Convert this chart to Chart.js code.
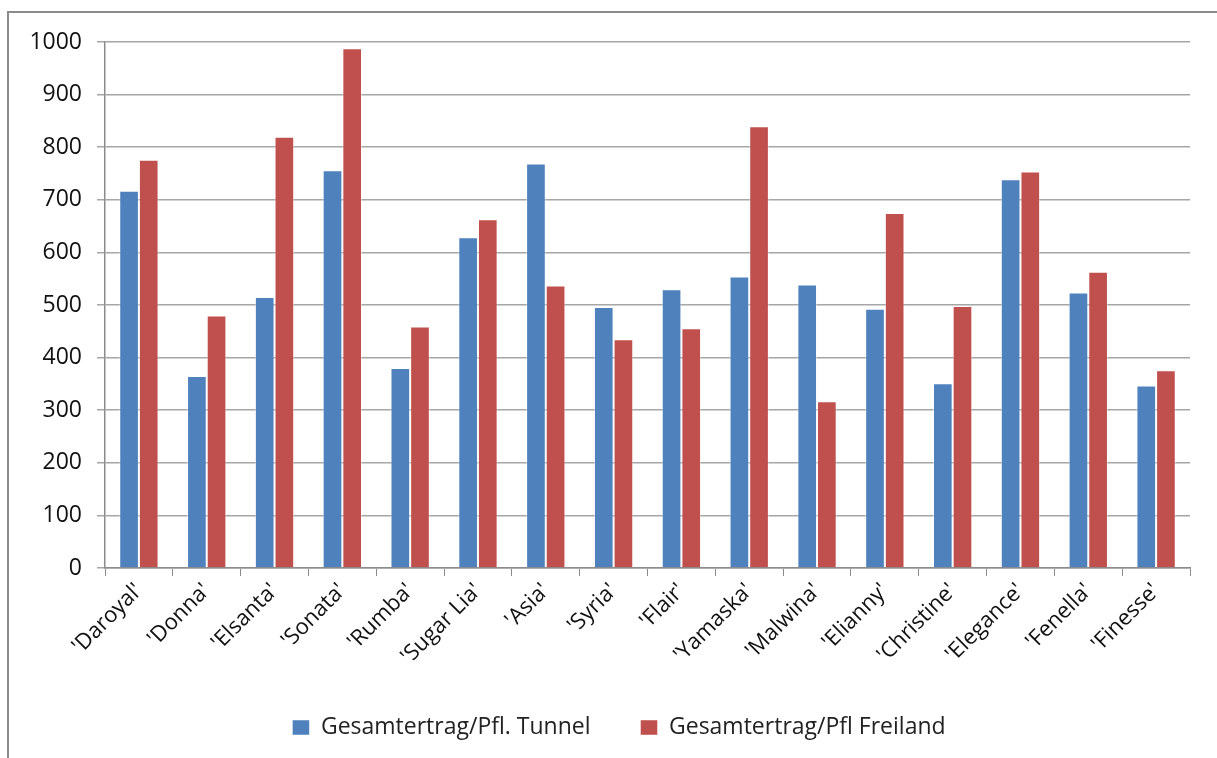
<!DOCTYPE html>
<html>
<head>
<meta charset="utf-8">
<script src="https://cdn.jsdelivr.net/npm/chart.js@4/dist/chart.umd.min.js"></script>
<style>
  html, body { margin: 0; padding: 0; background: #fff; }
  #wrap { width: 1217px; height: 758px; position: relative; }
</style>
</head>
<body>
<div id="wrap"><canvas id="c" width="1217" height="758"></canvas></div>
<script>
// Strawberry varieties and total yield per plant (tunnel vs. open field)
const sorten = ["'Daroyal'", "'Donna'", "'Elsanta'", "'Sonata'", "'Rumba'", "'Sugar Lia'", "'Asia'", "'Syria'",
                "'Flair'", "'Yamaska'", "'Malwina'", "'Elianny'", "'Christine'", "'Elegance'", "'Fenella'", "'Finesse'"];
const tunnel   = [717, 365, 515, 756, 380, 629, 769, 496, 530, 554, 539, 493, 351, 739, 524, 347];
const freiland = [776, 480, 820, 988, 459, 663, 537, 435, 456, 840, 317, 675, 498, 754, 563, 376];
const yTicks   = [0, 100, 200, 300, 400, 500, 600, 700, 800, 900, 1000];

const FONT = "'Open Sans', sans-serif";

// thin frame along the top and left edge
const frame = {
  id: 'frame',
  beforeDraw(chart) {
    const ctx = chart.ctx;
    ctx.save();
    ctx.strokeStyle = '#8c8c8c';
    ctx.lineWidth = 2;
    ctx.beginPath();
    ctx.moveTo(1217, 12);
    ctx.lineTo(8, 12);
    ctx.lineTo(8, 758);
    ctx.stroke();
    ctx.restore();
  }
};

// nudge the legend a little to the right of the canvas centre
const legendShift = {
  id: 'legendShift',
  afterLayout(chart) {
    const l = chart.legend;
    if (l) { l.left += 24; l.right += 24; }
  }
};

new Chart(document.getElementById('c'), {
  type: 'bar',
  data: {
    labels: sorten,
    datasets: [
      { label: 'Gesamtertrag/Pfl. Tunnel', data: tunnel,
        backgroundColor: '#4F81BD', borderColor: 'rgba(255,255,255,0.45)', borderWidth: 1 },
      { label: 'Gesamtertrag/Pfl Freiland', data: freiland,
        backgroundColor: '#C0504D', borderColor: 'rgba(255,255,255,0.45)', borderWidth: 1 }
    ]
  },
  options: {
    responsive: false,
    animation: false,
    devicePixelRatio: 1,
    layout: { padding: { top: 42, right: 27, left: 0, bottom: 9 } },
    datasets: { bar: { categoryPercentage: 0.58, barPercentage: 1.0 } },
    plugins: {
      tooltip: { enabled: false },
      legend: {
        position: 'bottom',
        labels: {
          font: { family: FONT, size: 23 },
          color: '#222',
          boxWidth: 17, boxHeight: 15,
          padding: 50
        }
      }
    },
    scales: {
      x: {
        grid: { display: true, drawOnChartArea: false, drawTicks: true, tickLength: 8, color: '#8c8c8c', offset: true },
        border: { color: '#8c8c8c', width: 1.5 },
        ticks: { font: { family: FONT, size: 22 }, color: '#111', maxRotation: 45, minRotation: 45, padding: 2 },
        afterFit(s) { s.height = 98; }
      },
      y: {
        min: 0, max: 1000,
        afterBuildTicks(s) { s.ticks = yTicks.map(v => ({ value: v })); },
        grid: { color: '#a6a6a6', lineWidth: 1.5, tickLength: 8, drawTicks: true },
        border: { color: '#8c8c8c', width: 1.5 },
        ticks: { font: { family: FONT, size: 23 }, color: '#111', padding: 15,
                 callback: v => String(v) },
        afterFit(s) { s.width = 105; }
      }
    }
  },
  plugins: [frame, legendShift]
});
</script>
</body>
</html>
